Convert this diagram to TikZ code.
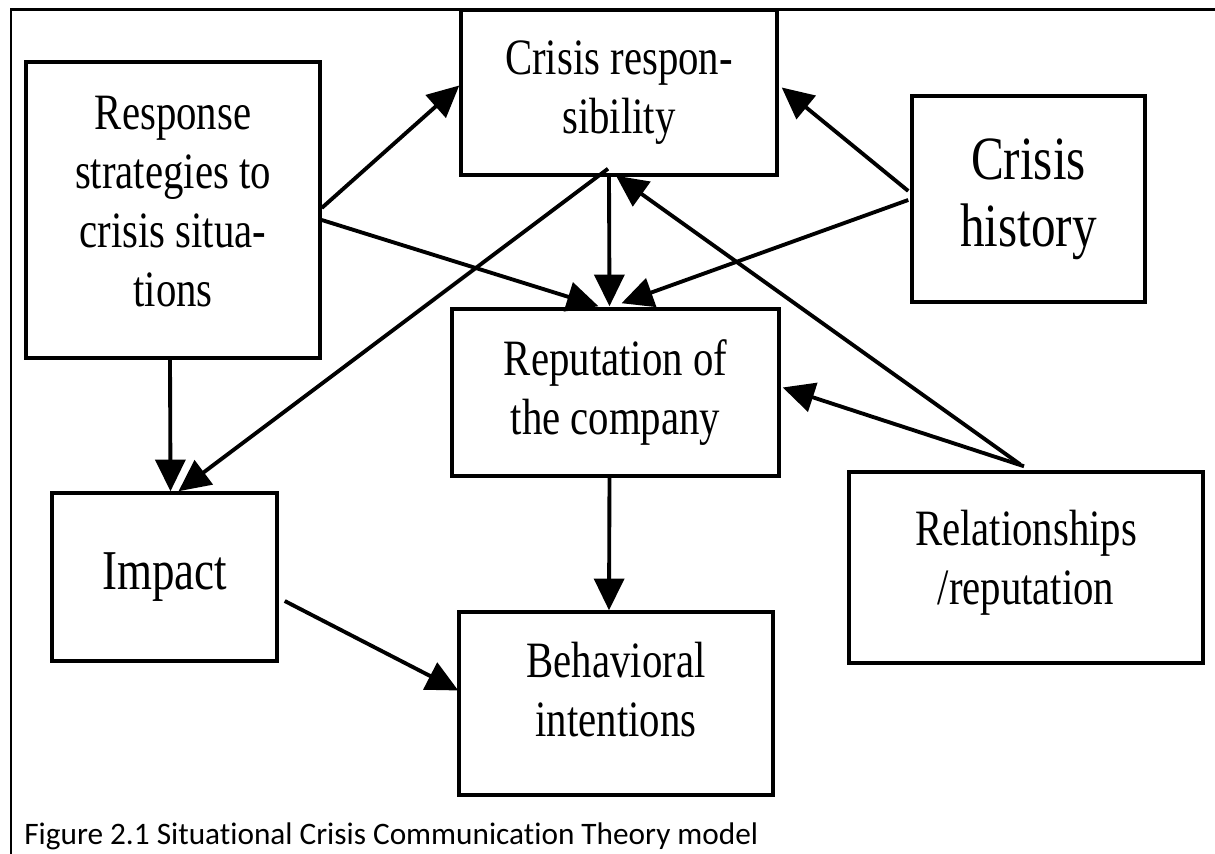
\documentclass[tikz,border=0pt]{standalone}
\usepackage{fontspec}
\setmainfont{Liberation Serif}
\newfontfamily\boxfont[FakeStretch=0.8]{Liberation Serif}
\newfontfamily\capfont[Ligatures=NoCommon]{Carlito}
\usetikzlibrary{arrows.meta,calc}

\begin{document}
\begin{tikzpicture}[x=0.02cm, y=-0.02cm,
        block/.style={rectangle, draw, line width=2pt, align=center, inner sep=0pt,
            font=\boxfont\fontsize{29}{33.5}\selectfont},
        arrow/.style={-{Triangle[length=18pt,width=17pt]}, line width=2.2pt}
    ]
        \useasboundingbox (0,0) rectangle (1215,854);
        % outer frame
        \draw[line width=1.7pt] (11,860) |- (1220,10);

        \node[block, minimum width=5.88cm, minimum height=5.92cm, text depth=0.35cm] (resp) at (173,210) {Response\\strategies to\\crisis situa-\\tions};
        \node[block, minimum width=6.32cm, minimum height=3.30cm] (crisresp) at (619,92.5) {Crisis respon-\\sibility};
        \node[block, minimum width=4.66cm, minimum height=4.12cm, font=\boxfont\fontsize{35}{38}\selectfont] (hist) at (1028.5,199) {Crisis\\history};
        \node[block, minimum width=6.54cm, minimum height=3.34cm] (rep) at (615.5,392.5) {Reputation of\\the company};
        \node[block, minimum width=4.50cm, minimum height=3.36cm, font=\boxfont\fontsize{32}{36}\selectfont] (impact) at (164.5,577) {Impact};
        \node[block, minimum width=6.28cm, minimum height=3.66cm, text depth=0.55cm] (behav) at (616,703.5) {Behavioral\\intentions};
        \node[block, minimum width=7.08cm, minimum height=3.82cm, text depth=0.4cm] (relat) at (1026,567.5) {Relationships\\/reputation};

        \draw[arrow] ($(resp.east)+(0,-2)$) -- ($(crisresp.west)+(0,-7)$);
        \draw[arrow] ($(resp.east)+(0,10)$) -- ($(rep.north)+(-17,-1)$);
        \draw[arrow] ($(crisresp.south)+(-11,-8)$) -- ($(impact.north)+(14,0)$);
        \draw[arrow] ($(crisresp.south)+(-10,0)$) -- ($(rep.north)+(-6,-1)$);
        \draw[arrow] ($(hist.west)+(-2,-8)$) -- ($(crisresp.east)+(3,-5)$);
        \draw[arrow] ($(hist.west)+(-2,1)$) -- ($(rep.north)+(6,-4)$);
        \draw[arrow] ($(relat.north)+(-6,-6)$) -- ($(crisresp.south)+(-3,-1)$);
        \draw[arrow] ($(relat.north)+(-2,-4)$) -- ($(rep.east)+(2,-5)$);
        \draw[arrow] ($(resp.south)+(-3,0)$) -- ($(impact.north)+(6,0)$);
        \draw[arrow] ($(impact.east)+(6,24)$) -- ($(behav.west)+(1,-13)$);
        \draw[arrow] ($(rep.south)+(-6,0)$) -- ($(behav.north)+(-7,0)$);

        \node[anchor=base west, inner sep=0pt, font=\capfont\fontsize{17.8}{20}\selectfont] (caption) at (24,845) {Figure 2.1 Situational Crisis Communication Theory model};
\end{tikzpicture}
\end{document}
